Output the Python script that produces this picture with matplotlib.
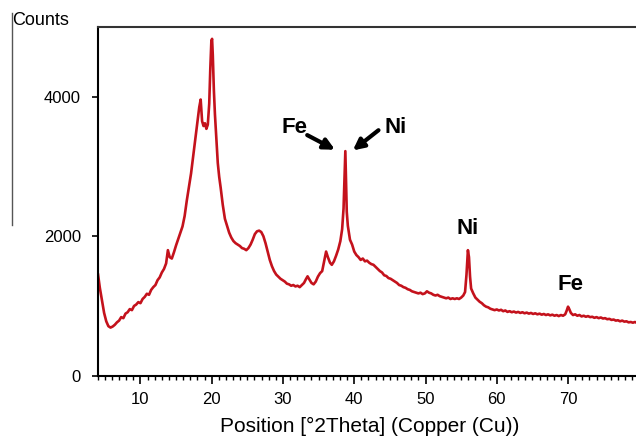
import matplotlib
matplotlib.use('Agg')
import matplotlib.pyplot as plt
from matplotlib.ticker import MultipleLocator
from matplotlib.lines import Line2D

plt.rcParams['font.family'] = ['Liberation Sans', 'DejaVu Sans']

# XRD pattern (2theta in degrees, counts)
two_theta = [
    4.05, 4.3, 4.6, 4.9, 5.2, 5.5, 5.8, 6.1, 6.4, 6.7, 7.0, 7.3, 7.6, 7.9, 8.2, 8.5,
    8.8, 9.1, 9.4, 9.7, 10.0, 10.3, 10.6, 10.9, 11.2, 11.5, 11.8, 12.1, 12.4, 12.7,
    13.0, 13.3, 13.6, 13.85, 14.1, 14.4, 14.7, 15.0, 15.3, 15.6, 15.9, 16.2, 16.5,
    16.8, 17.1, 17.4, 17.7, 18.0, 18.25, 18.45, 18.65, 18.85, 19.05, 19.25, 19.45,
    19.65, 19.8, 19.95, 20.05, 20.15, 20.3, 20.45, 20.65, 20.85, 21.05, 21.25, 21.55,
    21.85, 22.15, 22.45, 22.75, 23.05, 23.35, 23.65, 23.95, 24.25, 24.55, 24.85,
    25.15, 25.45, 25.75, 26.05, 26.35, 26.65, 26.95, 27.25, 27.55, 27.85, 28.15,
    28.45, 28.75, 29.05, 29.35, 29.65, 29.95, 30.25, 30.55, 30.85, 31.15, 31.45,
    31.75, 32.05, 32.35, 32.65, 32.95, 33.2, 33.45, 33.7, 34.0, 34.3, 34.6, 34.9,
    35.2, 35.5, 35.8, 36.05, 36.3, 36.6, 36.85, 37.15, 37.45, 37.75, 38.05, 38.3,
    38.5, 38.65, 38.75, 38.85, 38.95, 39.1, 39.4, 39.7, 40.0, 40.3, 40.6, 40.9,
    41.2, 41.5, 41.8, 42.1, 42.4, 42.7, 43.0, 43.3, 43.6, 43.9, 44.2, 44.5, 44.8,
    45.1, 45.4, 45.7, 46.0, 46.3, 46.6, 46.9, 47.2, 47.5, 47.8, 48.1, 48.4, 48.7,
    49.0, 49.3, 49.6, 49.9, 50.2, 50.5, 50.8, 51.1, 51.4, 51.7, 52.0, 52.3, 52.6,
    52.9, 53.2, 53.5, 53.8, 54.1, 54.4, 54.7, 55.0, 55.3, 55.55, 55.75, 55.95, 56.1,
    56.25, 56.4, 56.7, 57.0, 57.3, 57.6, 57.9, 58.2, 58.5, 58.8, 59.1, 59.4, 59.7,
    60.0, 60.3, 60.6, 60.9, 61.2, 61.5, 61.8, 62.1, 62.4, 62.7, 63.0, 63.3, 63.6,
    63.9, 64.2, 64.5, 64.8, 65.1, 65.4, 65.7, 66.0, 66.3, 66.6, 66.9, 67.2, 67.5,
    67.8, 68.1, 68.4, 68.7, 69.0, 69.3, 69.6, 69.8, 70.0, 70.15, 70.4, 70.7, 71.0,
    71.3, 71.6, 71.9, 72.2, 72.5, 72.8, 73.1, 73.4, 73.7, 74.0, 74.3, 74.6, 74.9,
    75.2, 75.5, 75.8, 76.1, 76.4, 76.7, 77.0, 77.3, 77.6, 77.9, 78.2, 78.5, 78.8,
    79.1, 79.4, 79.7, 80.0,
]
counts = [
    1450, 1260, 1080, 900, 780, 710, 690, 705, 730, 765, 790, 840, 825, 890, 910, 955,
    940, 1000, 1020, 1055, 1040, 1100, 1130, 1175, 1160, 1230, 1270, 1300, 1370, 1410,
    1480, 1530, 1610, 1800, 1700, 1680, 1770, 1870, 1960, 2050, 2140, 2290, 2510,
    2700, 2900, 3150, 3400, 3650, 3850, 3960, 3650, 3580, 3620, 3540, 3600,
    3900, 4400, 4800, 4830, 4600, 4100, 3750, 3400, 3050, 2850, 2700, 2450,
    2250, 2150, 2050, 1980, 1930, 1900, 1880, 1860, 1830, 1820, 1800,
    1830, 1880, 1950, 2030, 2070, 2080, 2060, 2000, 1900, 1780, 1660,
    1570, 1500, 1450, 1420, 1390, 1370, 1350, 1320, 1310, 1290, 1300,
    1280, 1290, 1270, 1300, 1330, 1380, 1425, 1380, 1330, 1310, 1350, 1420,
    1470, 1500, 1650, 1780, 1700, 1620, 1590, 1640, 1720, 1810, 1930, 2100,
    2400, 2900, 3220, 2800, 2350, 2150, 1950, 1880, 1780, 1730, 1700, 1660,
    1680, 1640, 1650, 1620, 1600, 1590, 1560, 1530, 1500, 1480, 1440, 1430, 1400,
    1390, 1370, 1350, 1330, 1300, 1290, 1270, 1260, 1240, 1230, 1210, 1200, 1190,
    1180, 1190, 1170, 1180, 1210, 1190, 1180, 1160, 1150, 1160, 1140, 1130, 1120,
    1110, 1120, 1100, 1110, 1100, 1110, 1100, 1120, 1150, 1200, 1450, 1800, 1700,
    1420, 1250, 1180, 1120, 1090, 1060, 1040, 1010, 990, 980, 960, 950, 940,
    950, 935, 945, 925, 935, 915, 925, 910, 920, 905, 915, 900, 910,
    895, 905, 890, 900, 885, 895, 880, 890, 875, 885, 870, 880, 865,
    875, 860, 870, 855, 870, 860, 880, 930, 990, 960, 900, 870, 880,
    860, 870, 850, 860, 845, 855, 840, 845, 830, 840, 825, 835, 820,
    825, 810, 815, 800, 805, 790, 795, 780, 790, 775, 780, 765, 770,
    760, 770, 755, 760,
]

# peak labels: text, text position, arrow tail, arrow head
peak_labels = ['Fe', 'Ni', 'Ni', 'Fe']
label_pos = [(31.6, 3552), (45.8, 3552), (55.9, 2104), (70.3, 1301)]
arrow_tails = [(33.4, 3450), (43.4, 3520)]
arrow_heads = [(37.3, 3240), (39.8, 3230)]

fig = plt.figure(figsize=(6.36, 4.38), dpi=100)
ax = fig.add_axes([97.7 / 636, 1 - 375.7 / 438, (639.3 - 97.7) / 636, (375.7 - 27) / 438])

ax.plot(two_theta, counts, color='#c4121c', lw=1.9)

ax.set_xlim(4, 80)
ax.set_ylim(0, 5000)
ax.set_xticks([10, 20, 30, 40, 50, 60, 70])
ax.xaxis.set_minor_locator(MultipleLocator(1))
ax.set_yticks([0, 2000, 4000])
ax.tick_params(axis='x', which='major', direction='out', length=6, width=1.2, pad=6, labelsize=12)
ax.tick_params(axis='x', which='minor', direction='out', length=3, width=1)
ax.tick_params(axis='y', which='major', direction='out', length=4, width=1.2, pad=8, labelsize=12)

ax.spines['right'].set_visible(False)
ax.spines['top'].set_color('#333333')
for s in ['left', 'bottom', 'top']:
    ax.spines[s].set_linewidth(1.5)

for txt, (x, y) in zip(peak_labels, label_pos):
    ax.text(x, y, txt, fontsize=16, fontweight='bold', ha='center', va='center')
for tail, head in zip(arrow_tails, arrow_heads):
    ax.annotate('', xy=head, xytext=tail,
                arrowprops=dict(arrowstyle='-|>', color='black', lw=3, mutation_scale=16,
                                shrinkA=0, shrinkB=0))

fig.text(369.6 / 636, 1 - 426 / 438, 'Position [°2Theta] (Copper (Cu))', fontsize=15,
         ha='center', va='center')
fig.text(12 / 636, 1 - 20.5 / 438, 'Counts', fontsize=13, ha='left', va='center')
fig.add_artist(Line2D([12 / 636, 12 / 636], [1 - 13 / 438, 1 - 225 / 438],
                      color='#555555', lw=1))

fig.savefig('out.png', dpi=100)
